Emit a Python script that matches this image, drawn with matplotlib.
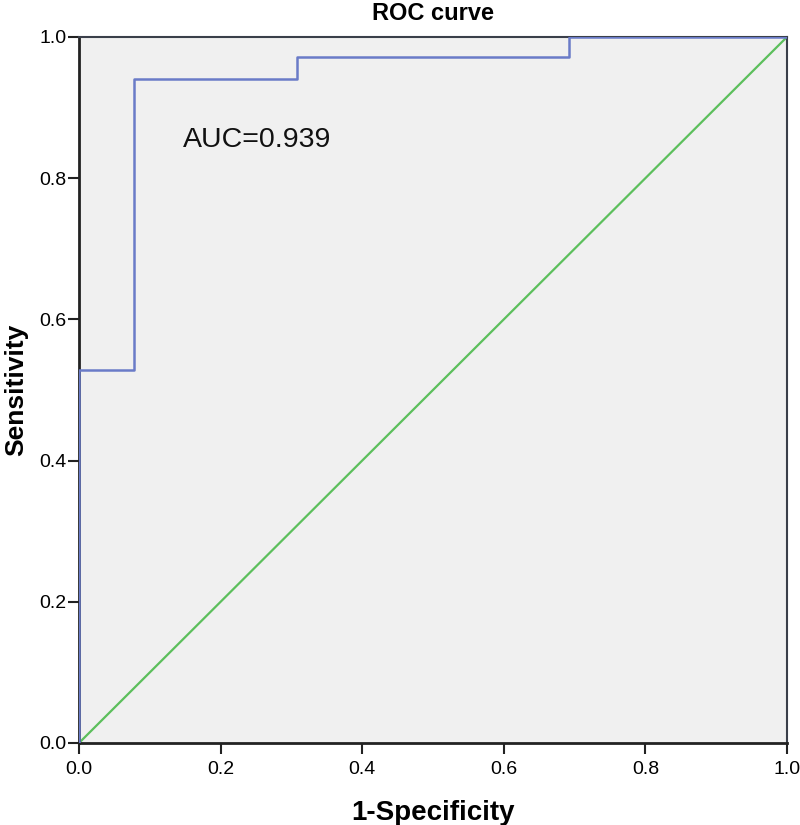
import numpy as np
import matplotlib.pyplot as plt

plt.rcParams['font.family'] = ['Liberation Sans', 'DejaVu Sans']

# ROC curve steps (1-specificity, sensitivity)
fpr = [0.0, 0.0, 0.077, 0.077, 0.308, 0.308, 0.692, 0.692, 1.0]
tpr = [0.0, 0.529, 0.529, 0.941, 0.941, 0.971, 0.971, 1.0, 1.0]
ref_line = [0.0, 1.0]
auc_text = 'AUC=0.939'
ticks = [0.0, 0.2, 0.4, 0.6, 0.8, 1.0]

fig = plt.figure(figsize=(8, 8.25), dpi=100)
ax = fig.add_axes([0.09875, 0.0994, 0.885, 0.8558])
ax.set_facecolor('#f0f0f0')

ax.plot(ref_line, ref_line, color='#5cbf5c', lw=1.6, zorder=2)
ax.plot(fpr, tpr, color='#6a7bc8', lw=1.8, zorder=3)

ax.text(0.147, 0.854, auc_text, fontsize=20.5, va='center', ha='left', color='#111111')

ax.set_xlim(0, 1)
ax.set_ylim(0, 1)
ax.set_xticks(ticks)
ax.set_yticks(ticks)
ax.set_xticklabels([f'{t:.1f}' for t in ticks])
ax.set_yticklabels([f'{t:.1f}' for t in ticks])
ax.tick_params(labelsize=14, length=8, width=1.5, color='#222222')
ax.tick_params(axis='x', pad=5)
ax.tick_params(axis='y', pad=1)

for side in ['left', 'bottom']:
    ax.spines[side].set_linewidth(2)
    ax.spines[side].set_color('#222222')
for side in ['top', 'right']:
    ax.spines[side].set_linewidth(1.5)
    ax.spines[side].set_color('#3a3f4a')

ax.set_title('ROC curve', fontsize=17, fontweight='bold', pad=12)
ax.set_xlabel('1-Specificity', fontsize=20, fontweight='bold', labelpad=16)
ax.set_ylabel('Sensitivity', fontsize=19, fontweight='bold', labelpad=8)

fig.savefig('out.png', dpi=100)
